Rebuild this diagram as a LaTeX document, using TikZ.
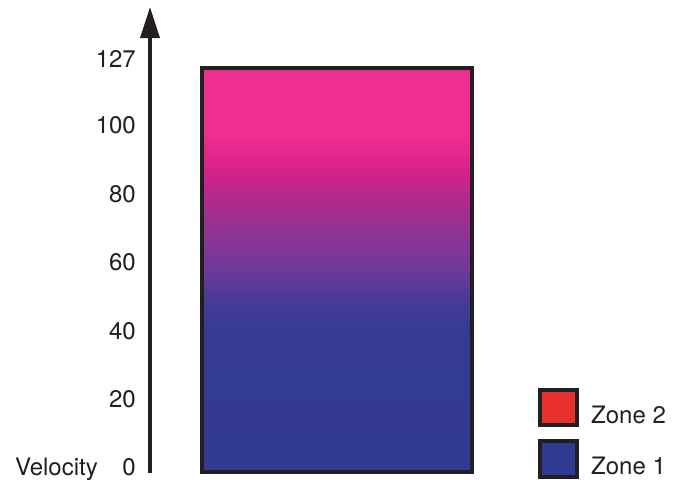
\documentclass[tikz,border=0pt]{standalone}
\usepackage{fontspec}
\setmainfont{TeX Gyre Heros}
\usetikzlibrary{arrows.meta}
\definecolor{ink}{HTML}{231F20}
\definecolor{pk}{HTML}{EE2D91}
\definecolor{pkA}{HTML}{EC2C90}
\definecolor{pkB}{HTML}{D7218B}
\definecolor{pkC}{HTML}{B5298D}
\definecolor{pkD}{HTML}{8C3494}
\definecolor{pkE}{HTML}{733997}
\definecolor{pkF}{HTML}{5A3B97}
\definecolor{pkG}{HTML}{423B96}
\definecolor{bl}{HTML}{353B94}
\definecolor{blZ}{HTML}{333A93}
\definecolor{zred}{HTML}{E8312F}
\definecolor{zblue}{HTML}{2F3A93}
\tikzset{
  lbl/.style={anchor=base east, inner sep=0pt, font=\fontsize{24}{28}\selectfont, text=ink},
  zlbl/.style={anchor=base west, inner sep=0pt, font=\fontsize{24}{28}\selectfont, text=ink},
  swatch/.style={draw=ink, line width=3.5pt},
  axisline/.style={draw=ink, line width=3.5pt, -{Triangle[length=31pt,width=19pt]}}
}
\begin{document}
\begin{tikzpicture}[x=1pt,y=-1pt]
\useasboundingbox (0,0) rectangle (676,479);
% gradient bar
\fill[pk] (200,66) rectangle (470,140);
\shade[top color=pkA, bottom color=pkB] (200,139.5) rectangle (470,170.5);
\shade[top color=pkB, bottom color=pkC] (200,170) rectangle (470,195.5);
\shade[top color=pkC, bottom color=pkD] (200,195) rectangle (470,235.5);
\shade[top color=pkD, bottom color=pkE] (200,235) rectangle (470,265.5);
\shade[top color=pkE, bottom color=pkF] (200,265) rectangle (470,285.5);
\shade[top color=pkF, bottom color=pkG] (200,285) rectangle (470,305.5);
\shade[top color=pkG, bottom color=bl] (200,305) rectangle (470,330.5);
\shade[top color=bl, bottom color=blZ] (200,330) rectangle (470,470);
\node[draw=ink, line width=3.5pt, inner sep=0pt, minimum width=270pt, minimum height=404pt, anchor=north west] (bar) at (200,66) {};
% axis
\coordinate (axbot) at (150,472.5);
\coordinate (axtop) at (150,7);
\draw[axisline] (axbot) -- (axtop);
% tick labels
\node[lbl] (l127) at (136,67) {127};
\node[lbl] (l100) at (136,133) {100};
\node[lbl] (l80) at (136,202) {80};
\node[lbl] (l60) at (136,270) {60};
\node[lbl] (l40) at (136,339) {40};
\node[lbl] (l20) at (136,407) {20};
\node[lbl] (l0) at (136,475) {0};
\node[lbl] (vel) at (98,475) {Velocity};
% legend
\node[swatch, fill=zred, minimum width=37pt, minimum height=35pt, inner sep=0pt, anchor=north west] (z2) at (538,388) {};
\node[swatch, fill=zblue, minimum width=37pt, minimum height=36pt, inner sep=0pt, anchor=north west] (z1) at (538,439) {};
\node[zlbl] (t2) at (591,423) {Zone 2};
\node[zlbl] (t1) at (591,474) {Zone 1};
\end{tikzpicture}
\end{document}
